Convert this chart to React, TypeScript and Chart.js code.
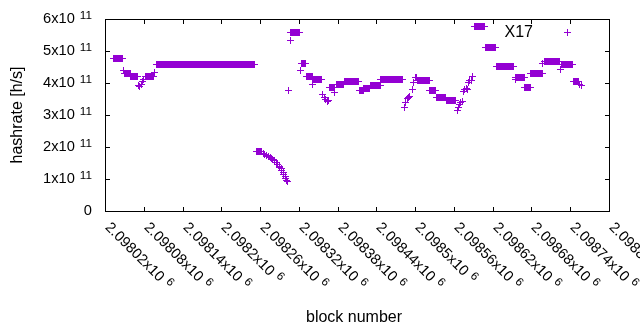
import { useEffect, useRef } from "react";
import { Chart, registerables } from "chart.js";

Chart.register(...registerables);

// ---------- data ----------
const X_MIN = 2098020;
const X_MAX = 2098800;
const X_STEP = 60;
const Y_MIN = 0;
const Y_MAX = 6e11;

const xTickValues = [2098020, 2098080, 2098140, 2098200, 2098260, 2098320, 2098380, 2098440, 2098500, 2098560, 2098620, 2098680, 2098740, 2098800];
const xTickLabels = ["2.09802x10", "2.09808x10", "2.09814x10", "2.0982x10", "2.09826x10", "2.09832x10", "2.09838x10", "2.09844x10", "2.0985x10", "2.09856x10", "2.09862x10", "2.09868x10", "2.09874x10", "2.0988x10"];
const xTickExponent = "6";

const yTickValues = [0, 1e11, 2e11, 3e11, 4e11, 5e11, 6e11];
const yTickLabels = ["0", "1x10", "2x10", "3x10", "4x10", "5x10", "6x10"];
const yTickExponents = ["", "11", "11", "11", "11", "11", "11"];

const seriesName = "X17";
const xTitle = "block number";
const yTitle = "hashrate [h/s]";

// runs of consecutive blocks sharing the same hashrate value
const runStart = [2098033, 2098049, 2098059, 2098082, 2098099, 2098253, 2098307, 2098323, 2098331, 2098341, 2098367, 2098377, 2098390, 2098413, 2098420, 2098430, 2098446, 2098503, 2098522, 2098532, 2098547, 2098591, 2098608, 2098625, 2098655, 2098669, 2098678, 2098699, 2098725, 2098745];
const runEnd = [2098046, 2098058, 2098070, 2098095, 2098250, 2098262, 2098320, 2098330, 2098340, 2098354, 2098374, 2098389, 2098412, 2098419, 2098429, 2098445, 2098479, 2098521, 2098531, 2098546, 2098562, 2098607, 2098624, 2098652, 2098668, 2098677, 2098696, 2098723, 2098743, 2098752];
const runValue = [4.77e11, 4.30e11, 4.22e11, 4.23e11, 4.58e11, 1.88e11, 5.58e11, 4.61e11, 4.22e11, 4.14e11, 3.89e11, 3.98e11, 4.06e11, 3.77e11, 3.83e11, 3.93e11, 4.14e11, 4.09e11, 3.78e11, 3.57e11, 3.47e11, 5.78e11, 5.11e11, 4.54e11, 4.18e11, 3.87e11, 4.30e11, 4.70e11, 4.58e11, 4.05e11];

// individual blocks
const pointBlock = [2098048, 2098071, 2098073, 2098075, 2098077, 2098079, 2098096,
  2098264, 2098266, 2098269, 2098272, 2098275, 2098277, 2098279, 2098282, 2098284, 2098286, 2098289, 2098290, 2098292, 2098293, 2098295, 2098296, 2098298, 2098299, 2098300, 2098301,
  2098303, 2098306, 2098322, 2098341, 2098356, 2098359, 2098361, 2098363, 2098365, 2098375,
  2098482, 2098485, 2098487, 2098489, 2098491, 2098495, 2098497, 2098499, 2098501,
  2098564, 2098566, 2098568, 2098570, 2098572, 2098574, 2098576, 2098578, 2098580, 2098582, 2098584, 2098586, 2098588,
  2098654, 2098697, 2098724, 2098754, 2098756];
const pointValue = [4.42e11, 3.93e11, 3.90e11, 3.98e11, 4.07e11, 4.12e11, 4.35e11,
  1.80e11, 1.78e11, 1.74e11, 1.71e11, 1.69e11, 1.66e11, 1.62e11, 1.58e11, 1.53e11, 1.48e11, 1.42e11, 1.37e11, 1.33e11, 1.28e11, 1.22e11, 1.16e11, 1.10e11, 1.04e11, 0.98e11, 0.93e11,
  3.78e11, 5.33e11, 4.40e11, 3.96e11, 3.65e11, 3.55e11, 3.50e11, 3.44e11, 3.47e11, 3.72e11,
  3.24e11, 3.42e11, 3.52e11, 3.56e11, 3.60e11, 3.80e11, 4.04e11, 4.18e11, 4.20e11,
  3.16e11, 3.26e11, 3.33e11, 3.40e11, 3.45e11, 3.75e11, 3.82e11, 3.84e11, 3.80e11, 4.02e11, 4.08e11, 4.10e11, 4.22e11,
  4.12e11, 4.61e11, 4.43e11, 3.96e11, 3.94e11];

// ---------- styling ----------
const POINT_COLOR = "#9400d3";
const FONT = '"Liberation Sans", Arial, sans-serif';
const TICK_FONT = 14.67;
const EXP_FONT = 11.7;
const TITLE_FONT = 16;

function buildPoints() {
  const pts: { x: number; y: number }[] = [];
  for (let i = 0; i < runStart.length; i++) {
    for (let b = runStart[i]; b <= runEnd[i]; b++) pts.push({ x: b, y: runValue[i] });
  }
  for (let i = 0; i < pointBlock.length; i++) pts.push({ x: pointBlock[i], y: pointValue[i] });
  pts.sort((a, b) => a.x - b.x);
  return pts;
}

function plus(ctx: CanvasRenderingContext2D, px: number, py: number) {
  const x = Math.round(px);
  const y = Math.round(py);
  ctx.fillRect(x - 3, y, 7, 1);
  ctx.fillRect(x, y - 3, 1, 7);
}

const decor = {
  id: "gnuplotDecor",
  afterDatasetsDraw(chart: any) {
    const ctx: CanvasRenderingContext2D = chart.ctx;
    const meta = chart.getDatasetMeta(0);
    ctx.save();
    ctx.fillStyle = POINT_COLOR;
    for (const el of meta.data) plus(ctx, el.x, el.y);
    ctx.restore();
  },
  afterDraw(chart: any) {
    const ctx: CanvasRenderingContext2D = chart.ctx;
    const { left, right, top, bottom } = chart.chartArea;
    const xs = chart.scales.x;
    const ys = chart.scales.y;
    const L = Math.round(left), R = Math.round(right), T = Math.round(top), B = Math.round(bottom);
    ctx.save();
    ctx.fillStyle = "#000";
    ctx.strokeStyle = "#000";
    ctx.lineWidth = 1;
    ctx.strokeRect(L + 0.5, T + 0.5, R - L, B - T);

    // x ticks (mirrored) and labels
    xTickValues.forEach((v, i) => {
      const px = Math.round(xs.getPixelForValue(v));
      ctx.fillRect(px, B - 4, 1, 4);
      ctx.fillRect(px, T + 1, 1, 4);
      ctx.save();
      ctx.translate(px - 0.5, B + 17);
      ctx.rotate(Math.PI / 4);
      ctx.textAlign = "left";
      ctx.textBaseline = "alphabetic";
      ctx.font = `${TICK_FONT}px ${FONT}`;
      const main = xTickLabels[i];
      ctx.fillText(main, 0, 0);
      const w = ctx.measureText(main).width;
      ctx.font = `${EXP_FONT}px ${FONT}`;
      ctx.fillText(xTickExponent, w + 5, -4.8);
      ctx.restore();
    });

    // y ticks (mirrored) and labels
    yTickValues.forEach((v, i) => {
      const py = Math.round(ys.getPixelForValue(v));
      ctx.fillRect(L + 1, py, 4, 1);
      ctx.fillRect(R - 4, py, 4, 1);
      const exp = yTickExponents[i];
      ctx.textAlign = "right";
      ctx.textBaseline = "alphabetic";
      let rightEdge = 92;
      if (exp) {
        ctx.font = `${EXP_FONT}px ${FONT}`;
        ctx.fillText(exp, rightEdge, py - 0.5);
        rightEdge -= ctx.measureText(exp).width + 5;
      }
      ctx.font = `${TICK_FONT}px ${FONT}`;
      ctx.fillText(yTickLabels[i], rightEdge, py + 4.3);
    });

    // axis titles
    ctx.font = `${TITLE_FONT}px ${FONT}`;
    ctx.textAlign = "center";
    ctx.textBaseline = "alphabetic";
    ctx.fillText(xTitle, 354, 322);
    ctx.save();
    ctx.translate(21.5, 115);
    ctx.rotate(-Math.PI / 2);
    ctx.fillText(yTitle, 0, 0);
    ctx.restore();

    // key
    ctx.textAlign = "right";
    ctx.fillText(seriesName, 533, 37);
    ctx.fillStyle = POINT_COLOR;
    plus(ctx, 567, 32);
    ctx.restore();
  },
};

export default function App() {
  const ref = useRef<HTMLCanvasElement | null>(null);
  useEffect(() => {
    if (!ref.current) return;
    const chart = new Chart(ref.current, {
      type: "scatter",
      data: {
        datasets: [
          {
            label: seriesName,
            data: buildPoints(),
            pointRadius: 0,
            pointHoverRadius: 0,
            borderColor: POINT_COLOR,
            backgroundColor: POINT_COLOR,
            showLine: false,
          },
        ],
      },
      options: {
        responsive: false,
        animation: false,
        devicePixelRatio: 1,
        events: [],
        layout: { padding: { left: 105, right: 31, top: 19, bottom: 119 } },
        plugins: { legend: { display: false }, tooltip: { enabled: false } },
        scales: {
          x: { type: "linear", min: X_MIN, max: X_MAX, display: false, ticks: { stepSize: X_STEP } },
          y: { type: "linear", min: Y_MIN, max: Y_MAX, display: false },
        },
      },
      plugins: [decor],
    });
    return () => chart.destroy();
  }, []);
  return (
    <div style={{ position: "absolute", left: 0, top: 0, width: 640, height: 330, background: "#fff" }}>
      <canvas ref={ref} width={640} height={330} style={{ display: "block" }} />
    </div>
  );
}
